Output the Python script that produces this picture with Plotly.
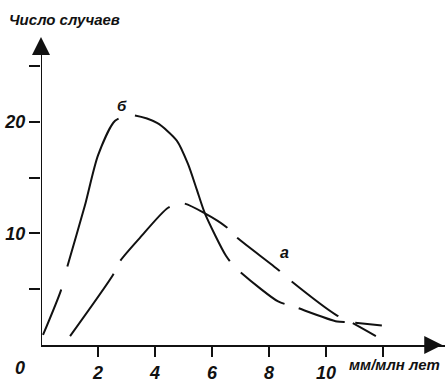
import plotly.graph_objects as go

# Curve "б" (solid-ish, higher peak)
b_x = [0.07, 0.70, 0.91, 1.54, 2.0, 2.6, 3.16, 4.07, 4.77, 5.16, 5.47, 5.75, 6.49, 6.84, 8.32, 8.81, 10.39, 10.77, 11.96]
b_y = [0.9, 4.9, 6.9, 12.5, 17.0, 20.1, 20.6, 19.9, 18.3, 16.2, 13.9, 11.8, 8.0, 6.9, 3.9, 3.5, 2.1, 2.05, 1.75]

# Curve "а" (dashed, lower peak)
a_x = [1.02, 2.53, 2.77, 3.47, 4.46, 4.98, 5.75, 6.49, 6.84, 8.32, 8.74, 10.35, 10.84, 11.75]
a_y = [0.8, 6.3, 7.5, 9.6, 12.3, 12.7, 11.8, 10.6, 9.7, 6.75, 5.8, 2.7, 2.1, 0.8]

x_ticks = [2, 4, 6, 8, 10, 12]
x_tick_text = ["2", "4", "6", "8", "10", ""]
y_ticks = [5, 10, 15, 20, 25]
y_tick_text = ["", "10", "", "20", ""]

FONT = "Liberation Sans, Arial"
BLK = "#111"

fig = go.Figure()
fig.add_trace(go.Scatter(
    x=b_x, y=b_y, mode="lines",
    line=dict(color=BLK, width=2, shape="spline", smoothing=0.7,
              dash="49px,24px,158px,17px,182px,16px,54px,15px,48px,11px,60px,100px"),
    hoverinfo="skip", showlegend=False))
fig.add_trace(go.Scatter(
    x=a_x, y=a_y, mode="lines",
    line=dict(color=BLK, width=2, shape="spline", smoothing=0.7,
              dash="76px,15px,73px,16px,49px,14px,54px,16px,58px,16px,40px,100px"),
    hoverinfo="skip", showlegend=False))

x_max = 404 / 28.5
y_max = 332 / 11.4

tickfont = dict(size=18, style="italic", weight="bold", family=FONT, color=BLK)
fig.update_layout(
    width=445, height=383,
    margin=dict(l=41, r=0, t=20, b=31),
    paper_bgcolor="white", plot_bgcolor="white",
    font=dict(family=FONT, color=BLK),
    xaxis=dict(range=[0, x_max], showgrid=False, zeroline=False,
               showline=True, linewidth=2, linecolor=BLK,
               tickvals=x_ticks, ticktext=x_tick_text, ticks="outside",
               ticklen=10, tickwidth=2, tickcolor=BLK,
               tickfont=tickfont),
    yaxis=dict(range=[0, y_max], showgrid=False, zeroline=False, showline=False,
               tickvals=y_ticks, ticktext=y_tick_text, ticks="outside",
               ticklen=11, tickwidth=2, tickcolor=BLK,
               tickfont=tickfont),
)

# y axis line
fig.add_shape(type="line", xref="x", yref="y", x0=0, y0=0, x1=0, y1=27.2,
              line=dict(color=BLK, width=2))
# arrowheads
fig.add_annotation(x=14.08, y=0, ax=-16, ay=0, xref="x", yref="y",
                   showarrow=True, arrowhead=2, arrowsize=1.8, arrowwidth=2, arrowcolor=BLK, text="")
fig.add_annotation(x=0, y=27.6, ax=0, ay=16, xref="x", yref="y",
                   showarrow=True, arrowhead=2, arrowsize=1.8, arrowwidth=2, arrowcolor=BLK, text="")

txt = dict(style="italic", weight="bold", family=FONT, color=BLK)
fig.add_annotation(x=2.84, y=21.5, xref="x", yref="y", text="б", showarrow=False,
                   xanchor="center", yanchor="middle", font=dict(size=15, **txt))
fig.add_annotation(x=8.53, y=8.25, xref="x", yref="y", text="а", showarrow=False,
                   xanchor="center", yanchor="middle", font=dict(size=16, **txt))


def px(xp, yp):
    return (xp - 41) / 404, 1 - (yp - 20) / 332


for label, (xp, yp), size in [("0", (20, 375), 18),
                              ("мм/млн лет", (394, 372), 15),
                              ("Число случаев", (64, 19), 15)]:
    xx, yy = px(xp, yp)
    fig.add_annotation(x=xx, y=yy, xref="paper", yref="paper", text=label, showarrow=False,
                       xanchor="center", yanchor="middle", font=dict(size=size, **txt))

fig.write_html("out.html")
